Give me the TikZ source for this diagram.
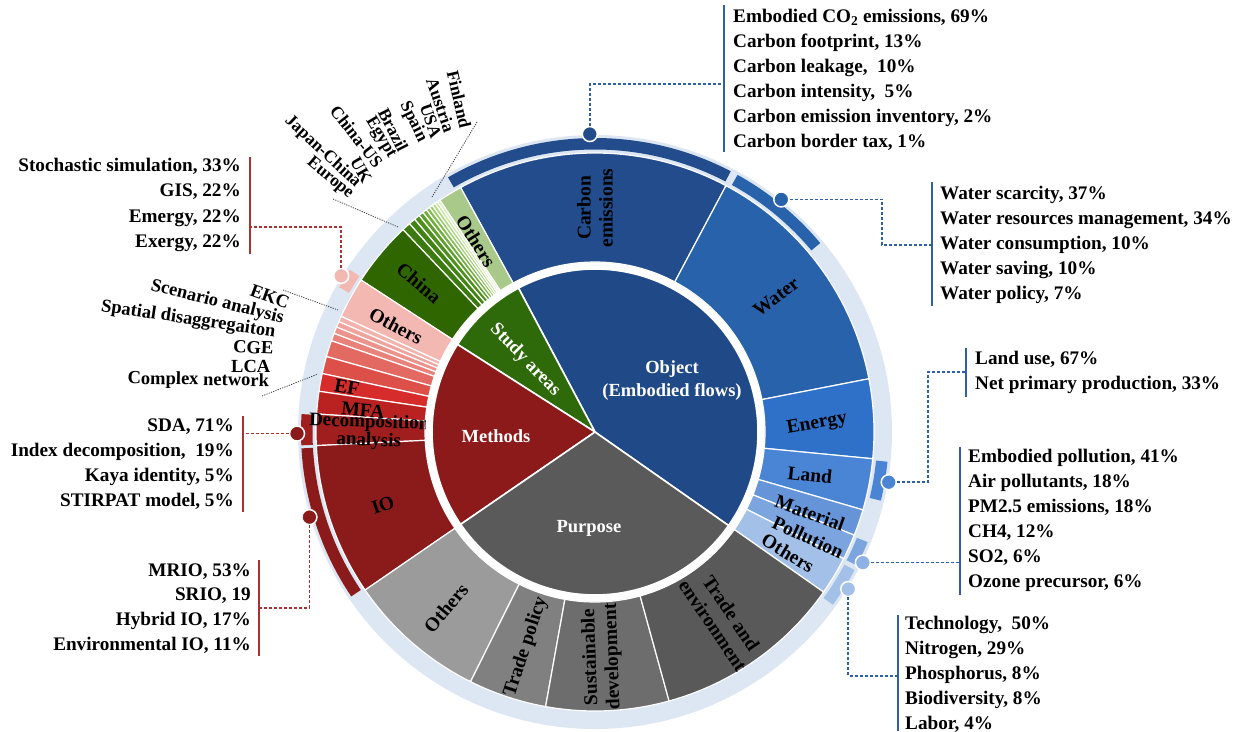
\documentclass[tikz,border=0pt]{standalone}
\usepackage{fontspec}
\setmainfont{Liberation Serif}
\definecolor{ringbg}{HTML}{DDE7F3}
\definecolor{objA}{HTML}{1F4A87}
\definecolor{carbonC}{HTML}{224C8B}
\definecolor{waterC}{HTML}{2862AA}
\definecolor{energyC}{HTML}{2F71C8}
\definecolor{landC}{HTML}{4A84D4}
\definecolor{materialC}{HTML}{6595D8}
\definecolor{pollutionC}{HTML}{7CA4DE}
\definecolor{pdotC}{HTML}{8FB2E4}
\definecolor{oothC}{HTML}{A3C1E8}
\definecolor{studyC}{HTML}{2F6A0A}
\definecolor{chinaC}{HTML}{306600}
\definecolor{sothC}{HTML}{A9C98B}
\definecolor{methC}{HTML}{8C1A1A}
\definecolor{ioC}{HTML}{8B1B1B}
\definecolor{decC}{HTML}{A01E1E}
\definecolor{mfaC}{HTML}{BA2222}
\definecolor{efC}{HTML}{D62C2C}
\definecolor{mothC}{HTML}{F4B8B3}
\definecolor{purpC}{HTML}{5A5A5A}
\definecolor{pothC}{HTML}{9B9B9B}
\definecolor{tpolC}{HTML}{808080}
\definecolor{sustC}{HTML}{6D6D6D}
\definecolor{tenvC}{HTML}{595959}
\definecolor{blueln}{HTML}{2F5FA7}
\definecolor{redln}{HTML}{A83232}
\definecolor{gs1}{HTML}{D8EFB5}
\definecolor{gs2}{HTML}{C4E59A}
\definecolor{gs3}{HTML}{AED880}
\definecolor{gs4}{HTML}{98CB68}
\definecolor{gs5}{HTML}{84BD52}
\definecolor{gs6}{HTML}{70AE3E}
\definecolor{gs7}{HTML}{5E9F2C}
\definecolor{gs8}{HTML}{4E901E}
\definecolor{gs9}{HTML}{428414}
\definecolor{gs10}{HTML}{3A7A0E}
\definecolor{rs1}{HTML}{F3B3AD}
\definecolor{rs2}{HTML}{F0A29C}
\definecolor{rs3}{HTML}{EC938C}
\definecolor{rs4}{HTML}{E8827B}
\definecolor{rs5}{HTML}{E26A63}
\definecolor{rs6}{HTML}{DC5049}
\newcommand{\iseg}[3]{\filldraw[fill=#3,draw=white,line width=1.6pt] (0,0) -- (#1:163pt) arc[start angle=#1,end angle=#2,radius=163pt] -- cycle;}
\newcommand{\mseg}[3]{\filldraw[fill=#3,draw=white,line width=1.2pt] (#1:170pt) arc[start angle=#1,end angle=#2,radius=170pt] -- (#2:279pt) arc[start angle=#2,end angle=#1,radius=279pt] -- cycle;}
\newcommand{\bseg}[3]{\fill[#3] (#1:282.5pt) arc[start angle=#1,end angle=#2,radius=282.5pt] -- (#2:294pt) arc[start angle=#2,end angle=#1,radius=294pt] -- cycle;}
\begin{document}
\begin{tikzpicture}[x=1pt,y=1pt,
  mlab/.style={font=\fontsize{19.5}{22}\selectfont\bfseries, align=center, inner sep=0pt, text=black},
  ilab/.style={font=\fontsize{18.5}{23}\selectfont\bfseries, align=center, inner sep=0pt, text=white},
  ltxt/.style={font=\fontsize{19.2}{20}\selectfont\bfseries, inner sep=0pt, anchor=west, text height=12.5pt, text depth=3.5pt},
  rtxt/.style={ltxt, anchor=east},
  ctry/.style={font=\fontsize{17.5}{18}\selectfont\bfseries, inner sep=0pt},
  mtag/.style={font=\fontsize{18.5}{18}\selectfont\bfseries, inner sep=0pt},
  dot/.style={circle, minimum size=15pt, inner sep=0pt, draw=white, line width=1.5pt},
  bdash/.style={draw=blueln, line width=1.6pt, dash pattern=on 3pt off 2pt},
  rdash/.style={draw=redln, line width=1.6pt, dash pattern=on 3pt off 2pt},
  bbr/.style={draw=blueln, line width=1.5pt},
  rbr/.style={draw=redln, line width=1.5pt},
  dotln/.style={draw=black!75, line width=0.8pt, dash pattern=on 1.2pt off 1.2pt}]
\useasboundingbox (0,0) rectangle (1239,-731);
\begin{scope}[shift={(595,-432)}]
  \fill[ringbg] (0,0) circle[radius=297pt];
  % object ring
  \mseg{62}{118.8}{carbonC}
  \mseg{11}{62}{waterC}
  \mseg{-5.5}{11}{energyC}
  \mseg{-16.2}{-5.5}{landC}
  \mseg{-21.7}{-16.2}{materialC}
  \mseg{-27}{-21.7}{pollutionC}
  \mseg{-35}{-27}{oothC}
  % study areas ring
  \mseg{118.8}{123.8}{sothC}
  \mseg{123.8}{124.4}{gs1}
  \mseg{124.4}{125.0}{gs2}
  \mseg{125.0}{125.7}{gs3}
  \mseg{125.7}{126.4}{gs4}
  \mseg{126.4}{127.2}{gs5}
  \mseg{127.2}{128.1}{gs6}
  \mseg{128.1}{129.1}{gs7}
  \mseg{129.1}{130.3}{gs8}
  \mseg{130.3}{131.7}{gs9}
  \mseg{131.7}{133.5}{gs10}
  \mseg{133.5}{147}{chinaC}
  % methods ring
  \mseg{147}{155.5}{mothC}
  \mseg{155.5}{156.7}{rs1}
  \mseg{156.7}{157.9}{rs2}
  \mseg{157.9}{159.3}{rs3}
  \mseg{159.3}{160.9}{rs4}
  \mseg{160.9}{164.3}{rs5}
  \mseg{164.3}{167.9}{rs6}
  \mseg{167.9}{171.6}{efC}
  \mseg{171.6}{176.3}{mfaC}
  \mseg{176.3}{182.8}{decC}
  \mseg{182.8}{214.5}{ioC}
  % purpose ring
  \mseg{214.5}{243.5}{pothC}
  \mseg{243.5}{259.8}{tpolC}
  \mseg{259.8}{285.4}{sustC}
  \mseg{285.4}{325}{tenvC}
  % highlight bands
  \bseg{62.5}{120}{carbonC}
  \bseg{40}{61}{waterC}
  \bseg{-13.5}{-5.8}{landC}
  \bseg{-27}{-22}{pollutionC}
  \bseg{-36}{-28}{oothC}
  \bseg{146.5}{150.5}{mothC}
  \bseg{176.5}{182.6}{decC}
  \bseg{183.2}{214}{ioC}
\end{scope}
\node[mlab, rotate=-2, font=\fontsize{19}{13}\selectfont\bfseries] (tDec) at (369,-432) {Decomposition\\analysis};
\begin{scope}[shift={(595,-432)}]
  \fill[white] (0,0) circle[radius=169.4pt];
  % inner pie
  \iseg{-35}{118}{objA}
  \iseg{118}{147.5}{studyC}
  \iseg{147.5}{214.5}{methC}
  \iseg{214.5}{325}{purpC}
  % dots
  \node[dot, fill=carbonC] (dC) at (91:298pt) {};
  \node[dot, fill=waterC] (dW) at (51.3:298pt) {};
  \node[dot, fill=landC] (dL) at (-9.7:298pt) {};
  \node[dot, fill=pdotC] (dP) at (-26:298pt) {};
  \node[dot, fill=oothC] (dO) at (-31.8:298pt) {};
  \node[dot, fill=mothC] (dMo) at (148.4:298pt) {};
  \node[dot, fill=ioC] (dD) at (180.3:298pt) {};
  \node[dot, fill=ioC] (dI) at (196.6:298pt) {};
\end{scope}
% inner labels
\node[ilab] (tObj) at (672,-381) {Object\\(Embodied flows)};
\node[ilab, rotate=-46] (tStudy) at (525,-360) {Study areas};
\node[ilab] (tMeth) at (496,-436) {Methods};
\node[ilab] (tPurp) at (589,-528) {Purpose};
% ring labels
\node[mlab, rotate=90] (tCarbon) at (595,-208) {Carbon\\emissions};
\node[mlab, rotate=37] (tWater) at (776,-297) {Water};
\node[mlab, rotate=10] (tEnergy) at (817,-424) {Energy};
\node[mlab, rotate=-6] (tLand) at (810,-475) {Land};
\node[mlab, rotate=-20] (tMat) at (810,-513) {Material};
\node[mlab, rotate=-25] (tPol) at (808,-537) {Pollution};
\node[mlab, rotate=-31] (tOo) at (788,-553) {Others};
\node[mlab, rotate=-58] (tSo) at (476,-241) {Others};
\node[mlab, rotate=-40] (tChina) at (419,-283) {China};
\node[mlab, rotate=-28] (tMo) at (396,-326) {Others};
\node[mlab, rotate=-10] (tEF) at (347,-387) {EF};
\node[mlab, rotate=-5] (tMFA) at (363,-410) {MFA};
\node[mlab, rotate=19] (tIO) at (383,-505) {IO};
\node[mlab, rotate=50] (tPo) at (446,-608) {Others};
\node[mlab, rotate=72] (tTp) at (526,-647) {Trade policy};
\node[mlab, rotate=92] (tSd) at (602,-657) {Sustainable\\development};
\node[mlab, rotate=-56] (tTe) at (722,-619) {Trade and\\environment};
% country labels
\node[ctry, rotate=-77] (cFin) at (459,-99.3) {Finland};
\node[ctry, rotate=-71] (cAut) at (440.7,-105) {Austria};
\node[ctry, rotate=-71] (cUSA) at (430.7,-120.7) {USA};
\node[ctry, rotate=-64] (cSpa) at (413.3,-121.7) {Spain};
\node[ctry, rotate=-63] (cBra) at (393.3,-130) {Brazil};
\node[ctry, rotate=-59] (cEgy) at (380.7,-137.3) {Egypt};
\node[ctry, rotate=-52] (cCUS) at (356.7,-136.7) {China-US};
\node[ctry, rotate=-60] (cUK) at (361,-170) {UK};
\node[ctry, rotate=-43] (cJC) at (322.7,-151.7) {Japan-China};
\node[ctry, rotate=-40] (cEur) at (330,-178.3) {Europe};
\coordinate (fA) at (477,-122); \coordinate (fB) at (432,-197);
\coordinate (eA) at (333,-199); \coordinate (eB) at (398,-227);
\draw[dotln] (fA) -- (fB);
\draw[dotln] (eA) -- (eB);
% method labels
\node[mtag, rotate=-20] (mEKC) at (270,-296.7) {EKC};
\node[mtag, rotate=-14] (mSce) at (217.3,-302.3) {Scenario analysis};
\node[mtag, rotate=-8.5] (mSpa) at (188.3,-319.7) {Spatial disaggregaiton};
\node[mtag, rotate=-2] (mCGE) at (253.3,-347.3) {CGE};
\node[mtag] (mLCA) at (250.7,-366.7) {LCA};
\node[mtag, rotate=-1] (mCN) at (198.3,-380.7) {Complex network};
\coordinate (kA) at (283,-290); \coordinate (kB) at (338,-310);
\coordinate (nA) at (262,-396); \coordinate (nB) at (318,-374);
\draw[dotln] (kA) -- (kB);
\draw[dotln] (nA) -- (nB);
% brackets
\draw[bbr] (724,-5) -- (724,-152);
\draw[bbr] (932,-182) -- (932,-306);
\draw[bbr] (966,-348) -- (966,-397);
\draw[bbr] (960,-447) -- (960,-595);
\draw[bbr] (898,-615) -- (898,-731);
\draw[rbr] (250,-157) -- (250,-254);
\draw[rbr] (243,-416) -- (243,-512);
\draw[rbr] (259,-560) -- (259,-656);
% connectors
\coordinate (bC) at (724,-84);
\draw[bdash] (dC) |- (bC);
\coordinate (kW) at (882,-245); \coordinate (bW) at (932,-245);
\draw[bdash] (dW) -| (kW) -- (bW);
\coordinate (kL) at (928,-372); \coordinate (bL) at (966,-372);
\draw[bdash] (dL) -| (kL) -- (bL);
\coordinate (bP) at (960,-563);
\draw[bdash] (dP) -- (dP -| bP);
\coordinate (bO) at (898,-676);
\draw[bdash] (dO) |- (bO);
\coordinate (bMo) at (250,-227);
\draw[rdash] (dMo) |- (bMo);
\coordinate (bD) at (243,-432);
\draw[rdash] (dD) -- (dD -| bD);
\coordinate (bI) at (259,-608);
\draw[rdash] (dI) |- (bI);
% carbon list
\node[ltxt] (c1) at (733,-18) {Embodied CO\textsubscript{2} emissions, 69\%};
\node[ltxt] (c2) at (733,-43) {Carbon footprint, 13\%};
\node[ltxt] (c3) at (733,-68) {Carbon leakage,\ \ 10\%};
\node[ltxt] (c4) at (733,-93) {Carbon intensity,\ \ 5\%};
\node[ltxt] (c5) at (733,-118) {Carbon emission inventory, 2\%};
\node[ltxt] (c6) at (733,-143) {Carbon border tax, 1\%};
% water list
\node[ltxt] (w1) at (940,-195) {Water scarcity, 37\%};
\node[ltxt] (w2) at (940,-220) {Water resources management, 34\%};
\node[ltxt] (w3) at (940,-245) {Water consumption, 10\%};
\node[ltxt] (w4) at (940,-270) {Water saving, 10\%};
\node[ltxt] (w5) at (940,-295) {Water policy, 7\%};
% land list
\node[ltxt] (l1) at (975,-360) {Land use, 67\%};
\node[ltxt] (l2) at (975,-385) {Net primary production, 33\%};
% pollution list
\node[ltxt] (p1) at (968,-458) {Embodied pollution, 41\%};
\node[ltxt] (p2) at (968,-483) {Air pollutants, 18\%};
\node[ltxt] (p3) at (968,-508) {PM2.5 emissions, 18\%};
\node[ltxt] (p4) at (968,-533) {CH4, 12\%};
\node[ltxt] (p5) at (968,-558) {SO2, 6\%};
\node[ltxt] (p6) at (968,-583) {Ozone precursor, 6\%};
% others list
\node[ltxt] (o1) at (905,-625) {Technology,\ \ 50\%};
\node[ltxt] (o2) at (905,-650) {Nitrogen, 29\%};
\node[ltxt] (o3) at (905,-675) {Phosphorus, 8\%};
\node[ltxt] (o4) at (905,-700) {Biodiversity, 8\%};
\node[ltxt] (o5) at (905,-725) {Labor, 4\%};
% left lists
\node[rtxt] (s1) at (241,-167) {Stochastic simulation, 33\%};
\node[rtxt] (s2) at (241,-192) {GIS, 22\%};
\node[rtxt] (s3) at (241,-218) {Emergy, 22\%};
\node[rtxt] (s4) at (241,-243) {Exergy, 22\%};
\node[rtxt] (d1) at (234,-427) {SDA, 71\%};
\node[rtxt] (d2) at (234,-452) {Index decomposition,\ \ 19\%};
\node[rtxt] (d3) at (234,-477) {Kaya identity, 5\%};
\node[rtxt] (d4) at (234,-502) {STIRPAT model, 5\%};
\node[rtxt] (i1) at (251,-572) {MRIO, 53\%};
\node[rtxt] (i2) at (251,-596) {SRIO, 19};
\node[rtxt] (i3) at (251,-621) {Hybrid IO, 17\%};
\node[rtxt] (i4) at (251,-646) {Environmental IO, 11\%};
\end{tikzpicture}
\end{document}
